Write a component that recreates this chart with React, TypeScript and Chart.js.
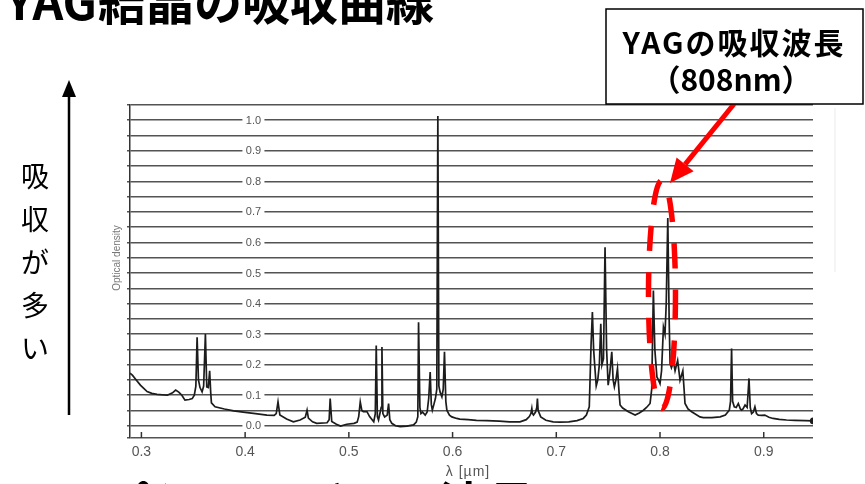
import React, { useEffect, useRef } from "react";
import { Chart, registerables } from "chart.js";

Chart.register(...registerables);

// ---- data (wavelength in µm, optical density) ----
const wavelengths = [
  0.289, 0.2915, 0.295, 0.299, 0.3055, 0.31, 0.315, 0.325, 0.33, 0.333, 0.336, 0.339, 0.342, 0.346, 0.349,
  0.351, 0.3525, 0.3537, 0.355, 0.3565, 0.3585, 0.36, 0.3617, 0.363, 0.3645, 0.3658, 0.3668, 0.3675, 0.371,
  0.38, 0.389, 0.4, 0.41, 0.421, 0.428, 0.43, 0.4317, 0.4335, 0.44, 0.4465, 0.453, 0.458, 0.4597, 0.461,
  0.465, 0.469, 0.479, 0.481, 0.482, 0.4835, 0.488, 0.492, 0.498, 0.505, 0.508, 0.5095, 0.511, 0.5125,
  0.514, 0.5175, 0.52, 0.524, 0.5255, 0.5264, 0.5275, 0.5286, 0.53, 0.5312, 0.5319, 0.5328, 0.5345, 0.537,
  0.5383, 0.5395, 0.5414, 0.545, 0.5495, 0.556, 0.5624, 0.565, 0.5665, 0.5672, 0.5685, 0.5695, 0.571,
  0.5736, 0.5755, 0.577, 0.5784, 0.5795, 0.5805, 0.582, 0.5835, 0.5848, 0.5858, 0.5868, 0.588, 0.5897,
  0.591, 0.5922, 0.5935, 0.5945, 0.597, 0.5993, 0.604, 0.607, 0.615, 0.623, 0.633, 0.645, 0.655, 0.665,
  0.671, 0.674, 0.6755, 0.6764, 0.677, 0.678, 0.68, 0.6812, 0.6818, 0.6825, 0.685, 0.69, 0.697, 0.7037,
  0.712, 0.72, 0.726, 0.729, 0.7318, 0.7335, 0.7348, 0.736, 0.737, 0.7385, 0.74, 0.7415, 0.7429, 0.744,
  0.7455, 0.747, 0.7485, 0.75, 0.7515, 0.7535, 0.7548, 0.756, 0.7575, 0.759, 0.7605, 0.7615, 0.764,
  0.7695, 0.773, 0.776, 0.78, 0.784, 0.787, 0.7904, 0.792, 0.7936, 0.795, 0.797, 0.7985, 0.8, 0.8015,
  0.8033, 0.8048, 0.806, 0.8075, 0.8088, 0.8097, 0.811, 0.813, 0.8145, 0.817, 0.8193, 0.822, 0.8232,
  0.8241, 0.827, 0.8305, 0.8385, 0.8417, 0.85, 0.858, 0.863, 0.8668, 0.868, 0.869, 0.87, 0.8716, 0.8735,
  0.8755, 0.8775, 0.8787, 0.88, 0.882, 0.884, 0.8858, 0.887, 0.8883, 0.89, 0.8915, 0.893, 0.8947, 0.898,
  0.901, 0.905, 0.909, 0.915, 0.922, 0.93, 0.94, 0.9477,
];
const opticalDensity = [
  0.172, 0.165, 0.15, 0.133, 0.112, 0.106, 0.103, 0.1, 0.108, 0.117, 0.11, 0.1, 0.084, 0.086, 0.089,
  0.1, 0.13, 0.29, 0.15, 0.125, 0.111, 0.13, 0.3, 0.127, 0.125, 0.18, 0.11, 0.075, 0.062,
  0.055, 0.049, 0.044, 0.04, 0.035, 0.034, 0.04, 0.078, 0.035, 0.022, 0.013, 0.019, 0.028, 0.051, 0.025,
  0.013, 0.008, 0.01, 0.02, 0.089, 0.014, 0.005, -0.001, 0.005, 0.008, 0.012, 0.03, 0.078, 0.05,
  0.046, 0.046, 0.03, 0.013, 0.04, 0.263, 0.03, 0.019, 0.041, 0.06, 0.258, 0.04, 0.029, 0.035,
  0.073, 0.02, 0.008, 0.0, -0.003, -0.001, 0.003, 0.012, 0.03, 0.339, 0.06, 0.04, 0.045,
  0.035, 0.045, 0.09, 0.176, 0.07, 0.051, 0.07, 0.09, 0.12, 1.014, 0.13, 0.11, 0.095,
  0.12, 0.242, 0.08, 0.051, 0.035, 0.029, 0.024, 0.022, 0.02, 0.018, 0.017, 0.015, 0.013, 0.013,
  0.02, 0.03, 0.04, 0.057, 0.04, 0.035, 0.045, 0.06, 0.089, 0.05, 0.029, 0.018, 0.013, 0.012,
  0.013, 0.017, 0.024, 0.035, 0.062, 0.263, 0.372, 0.25, 0.2, 0.13, 0.15, 0.2, 0.334, 0.2,
  0.22, 0.584, 0.25, 0.133, 0.17, 0.242, 0.15, 0.127, 0.15, 0.187, 0.11, 0.068, 0.058,
  0.046, 0.04, 0.035, 0.042, 0.051, 0.06, 0.073, 0.12, 0.443, 0.25, 0.16, 0.15, 0.138, 0.18,
  0.323, 0.3, 0.4, 0.68, 0.35, 0.204, 0.19, 0.209, 0.18, 0.214, 0.149, 0.18, 0.12,
  0.073, 0.055, 0.046, 0.029, 0.027, 0.027, 0.029, 0.035, 0.051, 0.08, 0.253, 0.08, 0.062, 0.06,
  0.073, 0.055, 0.051, 0.055, 0.068, 0.06, 0.155, 0.06, 0.04, 0.045, 0.062, 0.04, 0.035, 0.034,
  0.035, 0.028, 0.024, 0.021, 0.019, 0.018, 0.017, 0.016,
];

// ---- axes ----
const xMin = 0.289;
const xMax = 0.9475;
const yMin = -0.04;
const yMax = 1.05;
const yGridValues = [
  -0.04, 0, 0.05, 0.1, 0.15, 0.2, 0.25, 0.3, 0.35, 0.4, 0.45, 0.5, 0.55, 0.6, 0.65, 0.7, 0.75, 0.8, 0.85,
  0.9, 0.95, 1.0, 1.05,
];
const yLabelValues = [0, 0.1, 0.2, 0.3, 0.4, 0.5, 0.6, 0.7, 0.8, 0.9, 1.0];
const yLabelTexts = ["0.0", "0.1", "0.2", "0.3", "0.4", "0.5", "0.6", "0.7", "0.8", "0.9", "1.0"];
const yLabelAtWavelength = 0.408;
const xTickValues = [0.3, 0.4, 0.5, 0.6, 0.7, 0.8, 0.9];
const xTickLabels = ["0.3", "0.4", "0.5", "0.6", "0.7", "0.8", "0.9"];

// ---- texts ----
const titleLatin = "YAG";
const titleRest = "結晶の吸収曲線";
const sideChars = ["吸", "収", "が", "多", "い"];
const calloutLine1 = "YAGの吸収波長";
const calloutLine2 = "（808nm）";
const yAxisTitle = "Optical density";
const xAxisTitle = "λ [µm]";
const bottomText = "ランプとレーザーの波長";
const highlightCenter = { x: 0.8019, y: 0.43 };

const JP = '"Noto Sans CJK JP", "Noto Sans", sans-serif';
const SANS = '"Liberation Sans", Arial, sans-serif';

const decorations = {
  id: "decorations",
  beforeDatasetsDraw(chart: any) {
    const ctx = chart.ctx;
    const xs = chart.scales.x;
    const ys = chart.scales.y;
    const area = chart.chartArea;
    ctx.save();
    // inner y labels
    ctx.font = `11px ${SANS}`;
    ctx.textAlign = "center";
    ctx.textBaseline = "middle";
    const lx = xs.getPixelForValue(yLabelAtWavelength);
    yLabelValues.forEach((v, i) => {
      const py = ys.getPixelForValue(v);
      ctx.fillStyle = "#fff";
      ctx.fillRect(lx - 11, py - 5, 22, 10);
      ctx.fillStyle = "#555";
      ctx.fillText(yLabelTexts[i], lx, py + 0.5);
    });
    // x tick marks (inside) and labels
    ctx.strokeStyle = "#333";
    ctx.lineWidth = 1.5;
    ctx.fillStyle = "#555";
    ctx.font = `14px ${SANS}`;
    xTickValues.forEach((v, i) => {
      const px = xs.getPixelForValue(v);
      ctx.beginPath();
      ctx.moveTo(px, area.bottom);
      ctx.lineTo(px, area.bottom - 6);
      ctx.stroke();
      ctx.fillText(xTickLabels[i], px, 452);
    });
    ctx.restore();
  },
  afterDraw(chart: any) {
    const ctx = chart.ctx;
    const xs = chart.scales.x;
    const ys = chart.scales.y;
    ctx.save();

    // faint scan line at right
    ctx.strokeStyle = "rgba(0,0,0,0.08)";
    ctx.lineWidth = 1;
    ctx.beginPath();
    ctx.moveTo(835, 108);
    ctx.lineTo(835, 272);
    ctx.stroke();

    // title (cut at top)
    ctx.fillStyle = "#000";
    ctx.font = `bold 48px ${JP}`;
    ctx.textBaseline = "alphabetic";
    ctx.textAlign = "right";
    ctx.fillText(titleLatin, 97, 20);
    ctx.textAlign = "left";
    ctx.fillText(titleRest, 98, 20);

    // bottom text (cut at bottom)
    ctx.fillText(bottomText, 6, 522);

    // left arrow
    ctx.strokeStyle = "#000";
    ctx.lineWidth = 2.5;
    ctx.beginPath();
    ctx.moveTo(69, 415);
    ctx.lineTo(69, 94);
    ctx.stroke();
    ctx.beginPath();
    ctx.moveTo(69, 80);
    ctx.lineTo(62, 97);
    ctx.lineTo(76, 97);
    ctx.closePath();
    ctx.fill();

    // vertical side text
    ctx.font = `28px ${JP}`;
    ctx.textAlign = "center";
    ctx.textBaseline = "middle";
    sideChars.forEach((c, i) => ctx.fillText(c, 35, 176 + i * 43));

    // axis titles
    ctx.fillStyle = "#777";
    ctx.font = `10px ${SANS}`;
    ctx.save();
    ctx.translate(117, 258);
    ctx.rotate(-Math.PI / 2);
    ctx.fillText(yAxisTitle, 0, 0);
    ctx.restore();
    ctx.fillStyle = "#555";
    ctx.font = `14px ${SANS}`;
    (ctx as any).letterSpacing = "1px";
    ctx.fillText(xAxisTitle, 468, 472);
    (ctx as any).letterSpacing = "0px";

    // red dashed ellipse
    const cx = xs.getPixelForValue(highlightCenter.x);
    const cy = ys.getPixelForValue(highlightCenter.y);
    ctx.strokeStyle = "#ff0000";
    ctx.lineWidth = 5.5;
    ctx.setLineDash([25, 21]);
    ctx.beginPath();
    ctx.ellipse(cx, cy, 13.5, 114, 0, 0, Math.PI * 2);
    ctx.stroke();
    ctx.setLineDash([]);

    // red arrow
    const sx = 734, sy = 104, tx = 670, ty = 183;
    const ang = Math.atan2(ty - sy, tx - sx);
    const hl = 24, hw = 11;
    const bx = tx - hl * Math.cos(ang), by = ty - hl * Math.sin(ang);
    ctx.lineWidth = 5;
    ctx.beginPath();
    ctx.moveTo(sx, sy);
    ctx.lineTo(bx, by);
    ctx.stroke();
    ctx.fillStyle = "#ff0000";
    ctx.beginPath();
    ctx.moveTo(tx, ty);
    ctx.lineTo(bx + hw * Math.sin(ang), by - hw * Math.cos(ang));
    ctx.lineTo(bx - hw * Math.sin(ang), by + hw * Math.cos(ang));
    ctx.closePath();
    ctx.fill();

    // callout box
    ctx.fillStyle = "#fff";
    ctx.fillRect(606, 9, 257, 95);
    ctx.strokeStyle = "#000";
    ctx.lineWidth = 1.5;
    ctx.strokeRect(606, 9, 257, 95);
    ctx.fillStyle = "#000";
    ctx.textAlign = "center";
    ctx.textBaseline = "alphabetic";
    ctx.font = `bold 30px ${JP}`;
    (ctx as any).letterSpacing = "2px";
    ctx.fillText(calloutLine1, 734, 54);
    (ctx as any).letterSpacing = "0px";
    ctx.fillText(calloutLine2, 731, 91);

    ctx.restore();
  },
};

export default function App() {
  const ref = useRef<HTMLCanvasElement | null>(null);
  useEffect(() => {
    if (!ref.current) return;
    const points = wavelengths.map((w, i) => ({ x: w, y: opticalDensity[i] }));
    const lastIndex = points.length - 1;
    const chart = new Chart(ref.current, {
      type: "line",
      data: {
        datasets: [
          {
            data: points,
            borderColor: "#1c1c1c",
            backgroundColor: "#1c1c1c",
            borderWidth: 1.7,
            tension: 0,
            pointRadius: (c: any) => (c.dataIndex === lastIndex ? 2.5 : 0),
            fill: false,
          },
        ],
      },
      options: {
        responsive: false,
        devicePixelRatio: 1,
        animation: false,
        layout: { padding: { left: 127, right: 52, top: 105, bottom: 46 } },
        plugins: { legend: { display: false }, tooltip: { enabled: false } },
        scales: {
          x: { type: "linear", min: xMin, max: xMax, display: false },
          y: {
            type: "linear",
            min: yMin,
            max: yMax,
            afterBuildTicks: (axis: any) => {
              axis.ticks = yGridValues.map((v) => ({ value: v }));
            },
            ticks: { display: false },
            grid: {
              color: "rgba(45,45,45,0.82)",
              lineWidth: 1.6,
              drawTicks: true,
              tickLength: 3,
            },
            border: { display: true, color: "#333", width: 1.5 },
          },
        },
      },
      plugins: [decorations],
    } as any);
    return () => chart.destroy();
  }, []);
  return (
    <div style={{ position: "fixed", left: 0, top: 0, width: 865, height: 484, background: "#fff" }}>
      <canvas ref={ref} width={865} height={484} style={{ display: "block" }} />
    </div>
  );
}
